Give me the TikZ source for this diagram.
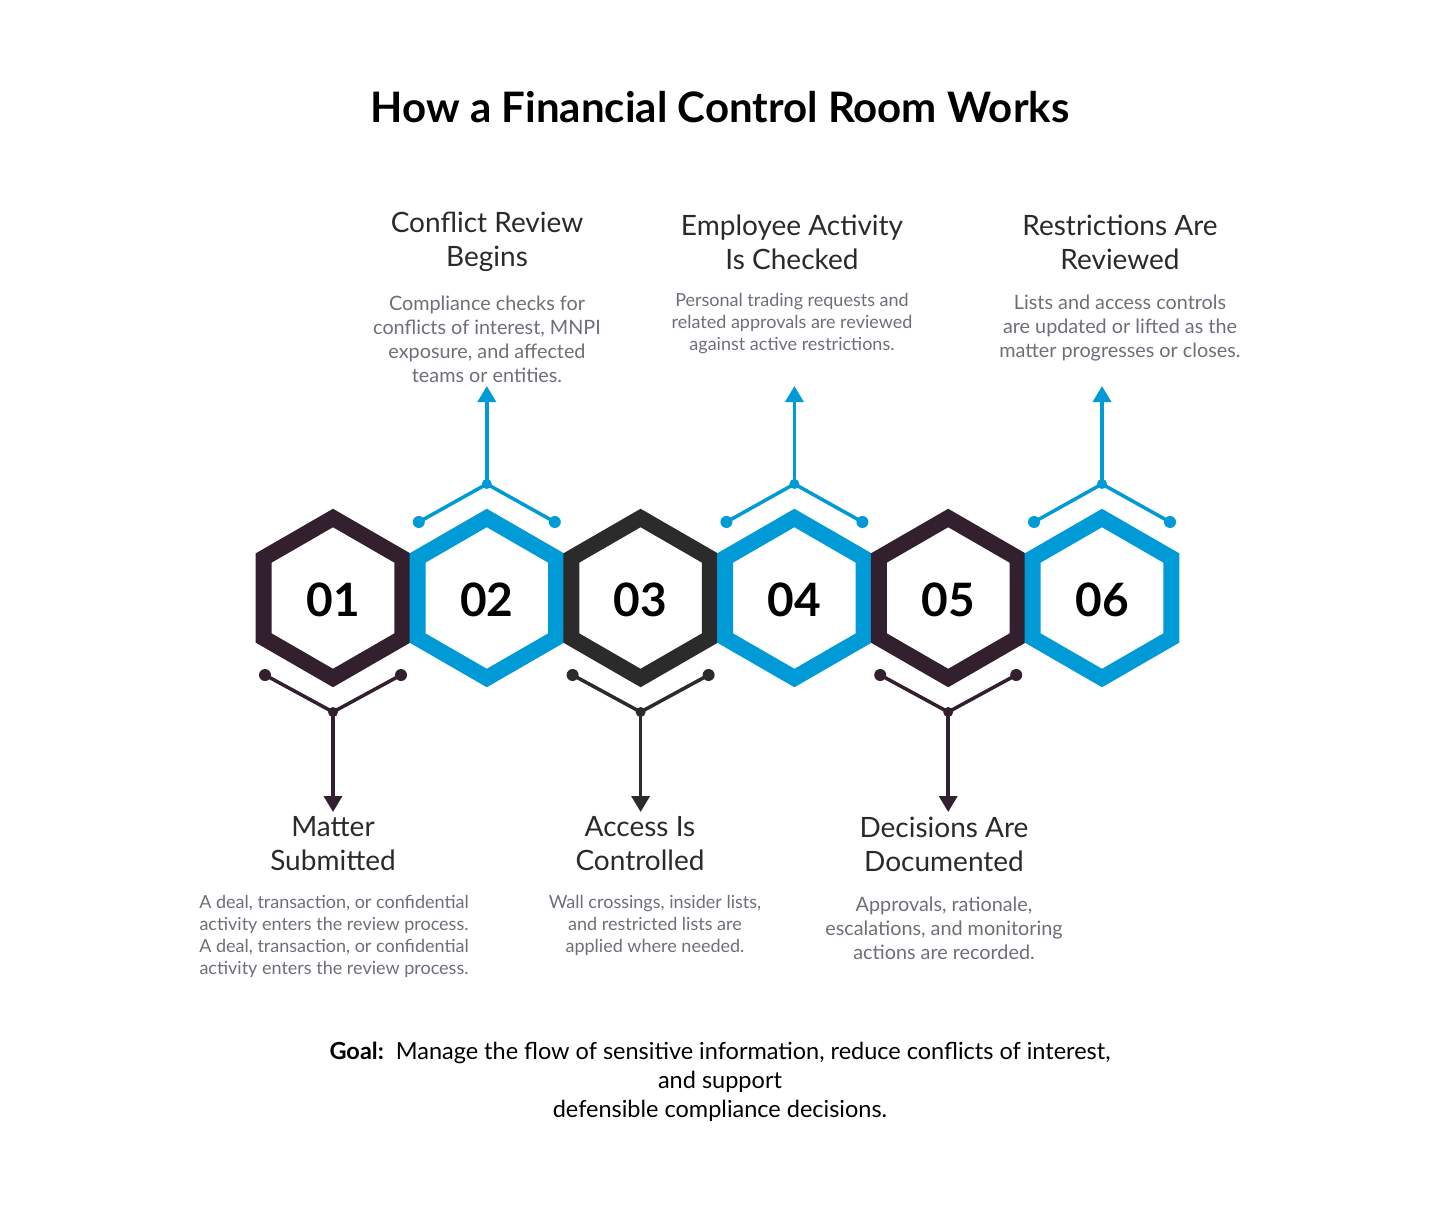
\documentclass[tikz,border=0pt]{standalone}
\usepackage{fontspec}
\setmainfont{Lato}
\usetikzlibrary{arrows.meta}
\definecolor{cpur}{HTML}{33202F}
\definecolor{cblue}{HTML}{009AD6}
\definecolor{cdark}{HTML}{2B2B2B}
\definecolor{cgray}{HTML}{6E6E78}
\definecolor{chead}{HTML}{2A2A2A}
\begin{document}
\begin{tikzpicture}[x=1pt,y=-1pt,
  hex/.style={line width=16pt,line join=miter},
  num/.style={font=\fontsize{46}{50}\selectfont\bfseries,text=black},
  head/.style={font=\fontsize{28}{34}\selectfont,text=chead,align=center},
  desc/.style={font=\fontsize{19.8}{24}\selectfont,text=cgray,align=center},
  descs/.style={font=\fontsize{18}{22}\selectfont,text=cgray,align=center},
  conn/.style={line width=3.5pt},
  dot/.style={circle,inner sep=0pt,minimum size=12pt},
  tip/.style={-{Triangle[length=16pt,width=18pt]}}]
\useasboundingbox (0,0) rectangle (1440,1228);
\node[font=\fontsize{42}{48}\selectfont\bfseries] (title) at (720,107) {How a Financial Control Room Works};
% hexagons
\foreach \i/\c in {1/cpur,2/cblue,3/cdark,4/cblue,5/cpur,6/cblue}{
  \pgfmathsetmacro{\cx}{333+153.8*(\i-1)}
  \draw[hex,draw=\c] (\cx,518) -- (\cx+69.3,558) -- (\cx+69.3,638) -- (\cx,678) -- (\cx-69.3,638) -- (\cx-69.3,558) -- cycle;
  \node[num] (n\i) at (\cx,600) {0\i};
}
% bottom connectors
\foreach \i/\c in {1/cpur,3/cdark,5/cpur}{
  \pgfmathsetmacro{\cx}{333+153.8*(\i-1)}
  \node[dot,fill=\c] (l\i) at (\cx-68,675) {};
  \node[dot,fill=\c] (r\i) at (\cx+68,675) {};
  \node[dot,fill=\c,minimum size=10pt] (j\i) at (\cx,712) {};
  \coordinate (e\i) at (\cx,812);
  \draw[conn,draw=\c] (l\i.center) -- (j\i.center) -- (r\i.center);
  \draw[conn,draw=\c,tip] (j\i.center) -- (e\i);
}
% top connectors
\foreach \i in {2,4,6}{
  \pgfmathsetmacro{\cx}{333+153.8*(\i-1)}
  \node[dot,fill=cblue] (l\i) at (\cx-68,522) {};
  \node[dot,fill=cblue] (r\i) at (\cx+68,522) {};
  \node[dot,fill=cblue,minimum size=10pt] (j\i) at (\cx,484) {};
  \coordinate (e\i) at (\cx,386);
  \draw[conn,draw=cblue] (l\i.center) -- (j\i.center) -- (r\i.center);
  \draw[conn,draw=cblue,tip] (j\i.center) -- (e\i);
}
% headings top
\node[head] (h2) at (487,242) {Conflict Review\\Begins};
\node[head] (h4) at (792,242) {Employee Activity\\Is Checked};
\node[head] (h6) at (1120,242) {Restrictions Are\\Reviewed};
\node[desc] (d2) at (487,339) {Compliance checks for\\conflicts of interest, MNPI\\exposure, and affected\\teams or entities.};
\node[descs] (d4) at (792,324) {Personal trading requests and\\related approvals are reviewed\\against active restrictions.};
\node[desc] (d6) at (1120,328) {Lists and access controls\\are updated or lifted as the\\matter progresses or closes.};
% headings bottom
\node[head] (h1) at (333,844) {Matter\\Submitted};
\node[head] (h3) at (640,844) {Access Is\\Controlled};
\node[head] (h5) at (944,844) {Decisions Are\\Documented};
\node[descs] (d1) at (334,936) {A deal, transaction, or confidential\\activity enters the review process.\\A deal, transaction, or confidential\\activity enters the review process.};
\node[descs] (d3) at (655,925) {Wall crossings, insider lists,\\and restricted lists are\\applied where needed.};
\node[desc] (d5) at (944,928) {Approvals, rationale,\\escalations, and monitoring\\actions are recorded.};
% goal
\node[font=\fontsize{23.5}{29}\selectfont,align=center] (goal) at (720,1082) {\textbf{Goal:}\ \ Manage the flow of sensitive information, reduce conflicts of interest,\\and support\\defensible compliance decisions.};
\end{tikzpicture}
\end{document}
